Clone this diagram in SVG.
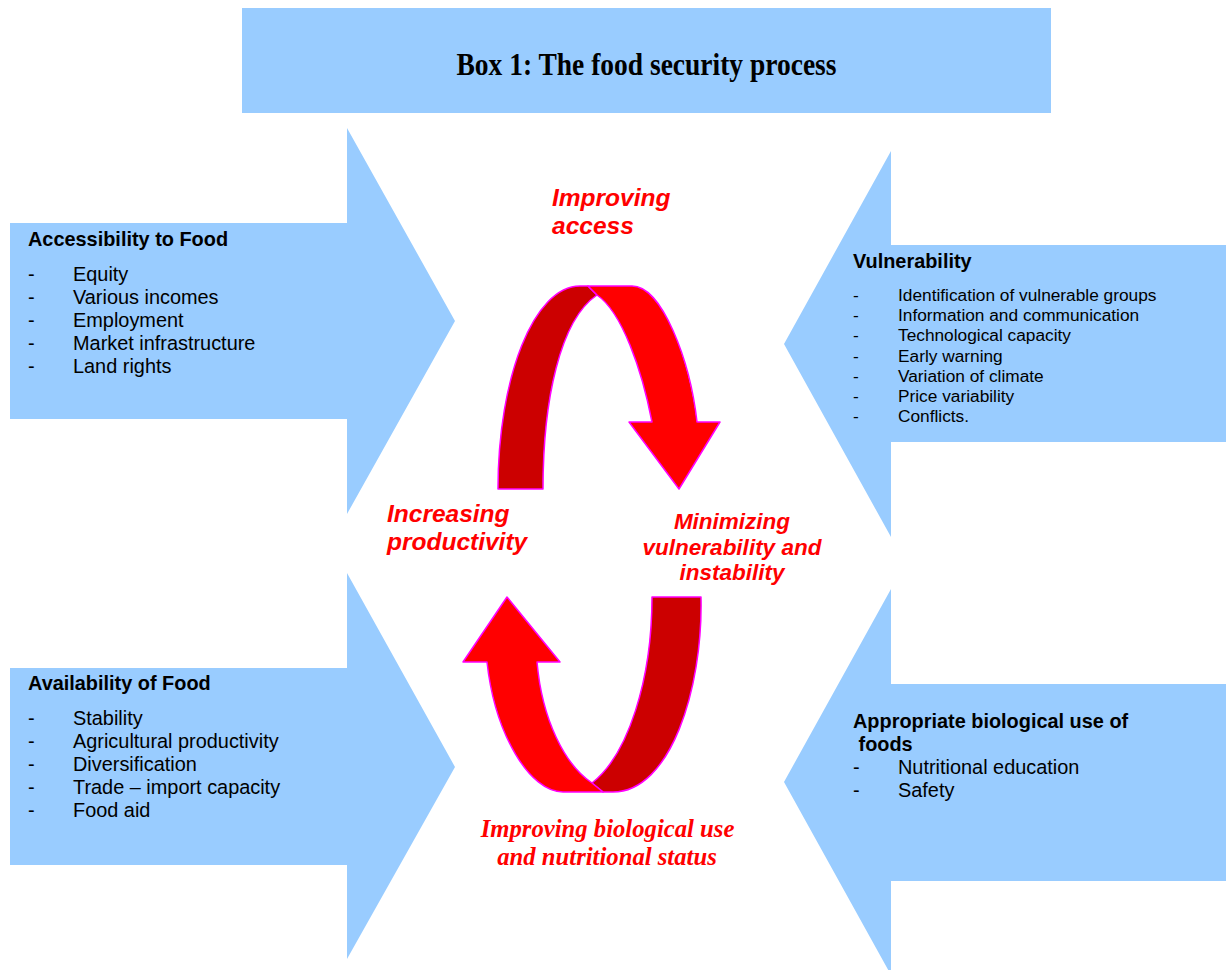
<svg xmlns="http://www.w3.org/2000/svg" width="1226" height="970" viewBox="0 0 1226 970">
<style>
.blue{fill:#99CCFF;stroke:none}
.hd{font-family:"Liberation Sans",Arial,sans-serif;font-weight:bold;font-size:19.9px;fill:#000}
.it{font-family:"Liberation Sans",Arial,sans-serif;font-size:19.9px;fill:#000}
.its{font-family:"Liberation Sans",Arial,sans-serif;font-size:17.3px;fill:#000}
.red{font-family:"Liberation Sans",Arial,sans-serif;font-weight:bold;font-style:italic;font-size:24.5px;fill:#FF0000}
.redm{font-family:"Liberation Sans",Arial,sans-serif;font-weight:bold;font-style:italic;font-size:22.5px;fill:#FF0000;text-anchor:middle}
.reds{font-family:"Liberation Serif","Times New Roman",serif;font-weight:bold;font-style:italic;font-size:24.7px;fill:#FF0000;text-anchor:middle}
.title{font-family:"Liberation Serif","Times New Roman",serif;font-weight:bold;font-size:31px;fill:#000;text-anchor:middle}
.dk{fill:#CC0000;stroke:#FF00FF;stroke-width:1.5;stroke-linejoin:round}
.br{fill:#FF0000;stroke:#FF00FF;stroke-width:1.5;stroke-linejoin:round}
</style>
<rect width="1226" height="970" fill="#fff"/>
<g id="title">
<rect class="blue" x="242" y="8" width="809" height="105"/>
<text class="title" x="646.5" y="75" textLength="380" lengthAdjust="spacingAndGlyphs">Box 1: The food security process</text>
</g>
<g id="accessibility">
<polygon class="blue" points="10,223 347,223 347,128 455,321 347,514 347,419 10,419"/>
<text class="hd" x="28" y="246">Accessibility to Food</text>
<g class="it">
<text x="28" y="281">-</text><text x="73" y="281">Equity</text>
<text x="28" y="304">-</text><text x="73" y="304">Various incomes</text>
<text x="28" y="327">-</text><text x="73" y="327">Employment</text>
<text x="28" y="350">-</text><text x="73" y="350">Market infrastructure</text>
<text x="28" y="373">-</text><text x="73" y="373">Land rights</text>
</g>
</g>
<g id="availability">
<polygon class="blue" points="10,668 347,668 347,573 455,767 347,959 347,865 10,865"/>
<text class="hd" x="28" y="690">Availability of Food</text>
<g class="it">
<text x="28" y="725">-</text><text x="73" y="725">Stability</text>
<text x="28" y="748">-</text><text x="73" y="748">Agricultural productivity</text>
<text x="28" y="771">-</text><text x="73" y="771">Diversification</text>
<text x="28" y="794">-</text><text x="73" y="794">Trade – import capacity</text>
<text x="28" y="817">-</text><text x="73" y="817">Food aid</text>
</g>
</g>
<g id="vulnerability">
<polygon class="blue" points="1226,245 891,245 891,151 784,344 891,537 891,442 1226,442"/>
<text class="hd" x="853" y="268">Vulnerability</text>
<g class="its">
<text x="853" y="301">-</text><text x="898" y="301">Identification of vulnerable groups</text>
<text x="853" y="321">-</text><text x="898" y="321">Information and communication</text>
<text x="853" y="341">-</text><text x="898" y="341">Technological capacity</text>
<text x="853" y="362">-</text><text x="898" y="362">Early warning</text>
<text x="853" y="382">-</text><text x="898" y="382">Variation of climate</text>
<text x="853" y="402">-</text><text x="898" y="402">Price variability</text>
<text x="853" y="422">-</text><text x="898" y="422">Conflicts.</text>
</g>
</g>
<g id="biological-use">
<polygon class="blue" points="1226,684 891,684 891,589 784,782 891,975 891,881 1226,881"/>
<text class="hd" x="853" y="728">Appropriate biological use of</text>
<text class="hd" x="853" y="751" xml:space="preserve"> foods</text>
<g class="it">
<text x="853" y="774">-</text><text x="898" y="774">Nutritional education</text>
<text x="853" y="797">-</text><text x="898" y="797">Safety</text>
</g>
</g>
<g id="connectors">
<path class="dk" d="M498,489 L543,489 C543,400 560,320 597,295 L588,286 L580,286 C534,286 498,377 498,489 Z"/>
<path class="br" d="M588,286 L632,286 C662,286 690,360 697,422 L720,422 L679,489 L629,422 L652,422 C642,370 622,312 597,295 Z"/>
<path class="dk" d="M652,597 L701,597 C703,690 670,792 613,792 L603,792 L592,783 C628,755 652,680 652,597 Z"/>
<path class="br" d="M507,597 L560,662 L537,662 C542,720 565,765 592,783 L603,792 L563,792 C530,792 495,735 487,662 L463,662 Z"/>
</g>
<g id="labels">
<text class="red" x="552" y="206">Improving</text>
<text class="red" x="552" y="234">access</text>
<text class="red" x="387" y="522">Increasing</text>
<text class="red" x="387" y="550">productivity</text>
<text class="redm" x="732" y="529">Minimizing</text>
<text class="redm" x="732" y="555">vulnerability and</text>
<text class="redm" x="732" y="580">instability</text>
<text class="reds" x="607.5" y="837">Improving biological use</text>
<text class="reds" x="607" y="865">and nutritional status</text>
</g>
</svg>
